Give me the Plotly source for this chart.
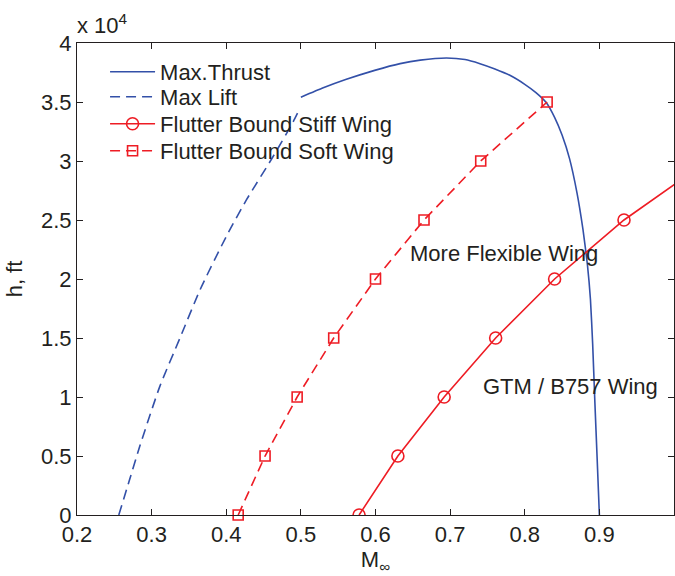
import plotly.graph_objects as go

# Max thrust altitude limit (Mach, altitude in ft)
thrust_mach = [0.500, 0.530, 0.560, 0.600, 0.633, 0.660, 0.695, 0.720, 0.740, 0.760,
               0.780, 0.800, 0.815, 0.829, 0.840, 0.850, 0.860, 0.870, 0.878, 0.884,
               0.888, 0.891, 0.894, 0.897, 0.900]
thrust_alt = [35400, 36200, 36900, 37700, 38250, 38550, 38730, 38600, 38250, 37800,
              37260, 36500, 35800, 34940, 33700, 32200, 30200, 27300, 24200, 21200,
              18300, 14500, 9500, 4800, 0]

# Max lift (stall) boundary
lift_mach = [0.256, 0.270, 0.284, 0.311, 0.338, 0.365, 0.400, 0.427, 0.463, 0.4895, 0.499]
lift_alt = [0, 2900, 5800, 10900, 15000, 19100, 23600, 26700, 30400, 33300, 34500]

# Flutter boundaries
soft_mach = [0.416, 0.452, 0.495, 0.544, 0.600, 0.665, 0.741, 0.830]
soft_alt = [0, 5000, 10000, 15000, 20000, 25000, 30000, 35000]

stiff_mach = [0.578, 0.630, 0.692, 0.761, 0.840, 0.933, 1.045]
stiff_alt = [0, 5000, 10000, 15000, 20000, 25000, 30000]

x_ticks = [0.2, 0.3, 0.4, 0.5, 0.6, 0.7, 0.8, 0.9, 1.0]
x_tick_text = ["0.2", "0.3", "0.4", "0.5", "0.6", "0.7", "0.8", "0.9", "1"]
y_ticks = [0, 5000, 10000, 15000, 20000, 25000, 30000, 35000, 40000]
y_tick_text = ["0", "0.5", "1", "1.5", "2", "2.5", "3", "3.5", "4"]

BLUE = "#3350a8"
RED = "#ee1c24"
INK = "#231f20"
FONT = "Liberation Sans"
FS = 22
DASH = "10px,6px"

fig = go.Figure()
fig.add_trace(go.Scatter(x=thrust_mach, y=thrust_alt, mode="lines", name="Max.Thrust",
                         line=dict(color=BLUE, width=1.6, shape="spline", smoothing=0.5),
                         legend="legend", showlegend=True))
fig.add_trace(go.Scatter(x=lift_mach, y=lift_alt, mode="lines", name="Max Lift",
                         line=dict(color=BLUE, width=1.6, dash=DASH, shape="spline",
                                   smoothing=0.6),
                         legend="legend2", showlegend=True))
fig.add_trace(go.Scatter(x=stiff_mach, y=stiff_alt, mode="lines+markers",
                         name="Flutter Bound Stiff Wing",
                         line=dict(color=RED, width=1.6),
                         marker=dict(symbol="circle-open", size=12, color=RED,
                                     line=dict(width=1.6, color=RED)),
                         cliponaxis=True, legend="legend3", showlegend=True))
fig.add_trace(go.Scatter(x=soft_mach, y=soft_alt, mode="lines+markers",
                         name="Flutter Bound Soft Wing",
                         line=dict(color=RED, width=1.6, dash=DASH),
                         marker=dict(symbol="square-open", size=10, color=RED,
                                     line=dict(width=1.6, color=RED)),
                         cliponaxis=False, legend="legend4", showlegend=True))

axis_common = dict(showline=True, linecolor=INK, linewidth=1, mirror="allticks",
                   ticks="inside", ticklen=6, tickcolor=INK, tickwidth=1,
                   showgrid=False, zeroline=False,
                   tickfont=dict(family=FONT, size=FS, color=INK))

fig.update_xaxes(range=[0.2, 1.0], tickvals=x_ticks, ticktext=x_tick_text,
                 title=dict(text="M<sub>∞</sub>", font=dict(family=FONT, size=FS, color=INK),
                            standoff=2),
                 **axis_common)
fig.update_yaxes(range=[0, 40000], tickvals=y_ticks, ticktext=y_tick_text,
                 title=dict(text="h, ft", font=dict(family=FONT, size=FS, color=INK),
                            standoff=12),
                 **axis_common)

fig.add_annotation(x=0.643, y=22200, text="More Flexible Wing", showarrow=False,
                   xanchor="left", yanchor="middle",
                   font=dict(family=FONT, size=FS, color=INK))
fig.add_annotation(x=0.742, y=10870, text="GTM / B757 Wing", showarrow=False,
                   xanchor="left", yanchor="middle",
                   font=dict(family=FONT, size=FS, color=INK))
fig.add_annotation(x=0, y=1, xref="paper", yref="paper", xanchor="left", yanchor="bottom",
                   text="x 10<sup>4</sup>", showarrow=False, yshift=3, xshift=-2,
                   font=dict(family=FONT, size=FS, color=INK))

# one legend per entry so the rows sit at their own heights
legend_rows = [0.9386, 0.8856, 0.8284, 0.7712]
legend_style = dict(x=0.047, xanchor="left", yanchor="middle",
                    bgcolor="rgba(0,0,0,0)", borderwidth=0,
                    font=dict(family=FONT, size=FS, color=INK), itemwidth=45)

fig.update_layout(
    width=675, height=576,
    margin=dict(l=77, r=1, t=43, b=61),
    paper_bgcolor="white", plot_bgcolor="white",
    font=dict(family=FONT, size=FS, color=INK),
    showlegend=True,
    legend=dict(y=legend_rows[0], **legend_style),
    legend2=dict(y=legend_rows[1], **legend_style),
    legend3=dict(y=legend_rows[2], **legend_style),
    legend4=dict(y=legend_rows[3], **legend_style),
)

fig.write_html("out.html")
